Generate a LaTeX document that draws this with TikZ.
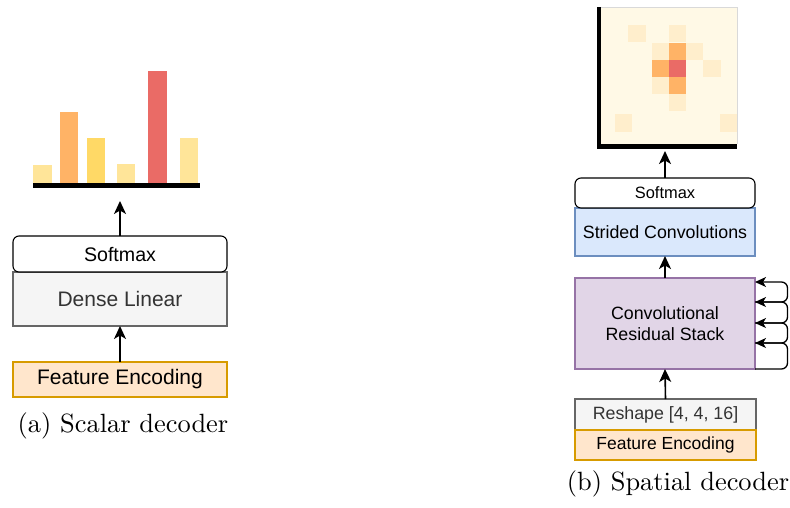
\documentclass[tikz,border=0pt]{standalone}
\usepackage{fontspec}
\newfontfamily\arial{Liberation Sans}
\usetikzlibrary{arrows.meta,calc}
\definecolor{grayfill}{HTML}{F5F5F5}
\definecolor{grayline}{HTML}{666666}
\definecolor{graytext}{HTML}{333333}
\definecolor{featfill}{HTML}{FFE6CC}
\definecolor{featline}{HTML}{D79B00}
\definecolor{bluefill}{HTML}{DAE8FC}
\definecolor{blueline}{HTML}{6C8EBF}
\definecolor{purpfill}{HTML}{E1D5E7}
\definecolor{purpline}{HTML}{9673A6}
\definecolor{barpale}{HTML}{FFE599}
\definecolor{barorange}{HTML}{FFB366}
\definecolor{baryellow}{HTML}{FFD966}
\definecolor{barred}{HTML}{EA6B66}
\definecolor{heatbase}{HTML}{FFF9E6}
\definecolor{heatlight}{HTML}{FFEECC}
\begin{document}
\begin{tikzpicture}[x=1pt,y=-1pt,
  blk/.style={rectangle, draw, line width=1.1pt, inner sep=0pt, outer sep=0pt},
  big/.style={font=\arial\fontsize{21}{25}\selectfont},
  small/.style={font=\arial\fontsize{17.8}{21.5}\selectfont},
  arr/.style={line width=1.6pt, -{Stealth[length=13pt,width=12pt,inset=3.5pt]}},
  loop/.style={line width=1.3pt, rounded corners=6pt, -{Stealth[length=11pt,width=10pt,inset=3pt]}},
  caption/.style={anchor=base, inner sep=0pt}]
\useasboundingbox (0,0) rectangle (790,507);

% ---------- scalar decoder ----------
% bar chart
\fill[barpale]   (33,165) rectangle (52,183);
\fill[barorange] (60,112) rectangle (78,183);
\fill[baryellow] (87,138) rectangle (105,183);
\fill[barpale]   (117,164) rectangle (135,183);
\fill[barred]    (148,71) rectangle (167,183);
\fill[barpale]   (180,138) rectangle (198,183);
\draw[line width=5pt] (33,185) -- (200,185);
\coordinate (chartA) at (120,201);

\node[blk, fill=grayfill, draw=grayline, text=graytext, big,
      minimum width=214pt, minimum height=54pt] (dense) at (120,299) {Dense Linear};
\node[blk, fill=white, rounded corners=6pt, font=\arial\fontsize{19.6}{23}\selectfont,
      minimum width=214pt, minimum height=36pt] (smA) at (120,254) {Softmax};
\node[blk, fill=featfill, draw=featline, big,
      minimum width=214pt, minimum height=35pt] (featA) at (120,379.5) {Feature Encoding};

\draw[arr] (featA.north) -- (dense.south);
\draw[arr] (smA.north) -- (chartA);

\node[caption] (capA) at (123,432) {\scalebox{2.64}{(a) Scalar decoder}};

% ---------- spatial decoder ----------
% heat map
\fill[heatbase] (601,7) rectangle (737,144);
\draw[black!15, line width=0.6pt] (601,7) -- (737,7) -- (737,144);
\foreach \xa/\ya/\c in {628.3/25/heatlight, 669/25/heatlight,
    651.7/42.7/heatlight, 669/42.7/barorange, 686/42.7/heatlight,
    651.7/60/barorange, 669/60/barred, 703.3/60/heatlight,
    651.7/76.7/heatlight, 669/76.7/barorange, 669/94/heatlight,
    615/114.3/heatlight, 720/114.3/heatlight}
  \fill[\c] (\xa,\ya) rectangle ++(17.2,17.2);
\draw[line width=4.5pt, line join=miter] (599,7) -- (599,146.5) -- (737,146.5);
\coordinate (mapB) at (665,151);

\node[blk, fill=bluefill, draw=blueline, small,
      minimum width=180pt, minimum height=48pt] (conv) at (665,232) {Strided Convolutions};
\node[blk, fill=white, rounded corners=6pt, font=\arial\fontsize{16.4}{20}\selectfont,
      minimum width=180pt, minimum height=30pt] (smB) at (665,193) {Softmax};
\node[blk, fill=purpfill, draw=purpline, small, align=center,
      minimum width=180pt, minimum height=91pt] (res) at (665,323.5) {Convolutional\\Residual Stack};
\node[blk, fill=grayfill, draw=grayline, text=graytext, small,
      minimum width=181pt, minimum height=31pt] (reshape) at (665.5,414.5) {Reshape [4, 4, 16]};
\node[blk, fill=featfill, draw=featline, font=\arial\fontsize{17.5}{21}\selectfont,
      minimum width=181pt, minimum height=30pt] (featB) at (665.5,445) {Feature Encoding};

\draw[arr] (smB.north) -- (mapB);
\draw[arr] (res.north) -- (conv.south);
\draw[arr] (reshape.north) -- (res.south);

% residual skip loops on the right side of the stack
\coordinate (r0) at (res.south east);
\coordinate (r1) at ($(res.south east)+(0,-26)$);
\coordinate (r2) at ($(res.south east)+(0,-46)$);
\coordinate (r3) at ($(res.south east)+(0,-67)$);
\coordinate (r4) at ($(res.south east)+(0,-87)$);
\draw[loop] (r0) -- ++(32.5,0) |- (r1);
\draw[loop] (r1) -- ++(32.5,0) |- (r2);
\draw[loop] (r2) -- ++(32.5,0) |- (r3);
\draw[loop] (r3) -- ++(32.5,0) |- (r4);

\node[caption] (capB) at (678,490) {\scalebox{2.64}{(b) Spatial decoder}};
\end{tikzpicture}
\end{document}
